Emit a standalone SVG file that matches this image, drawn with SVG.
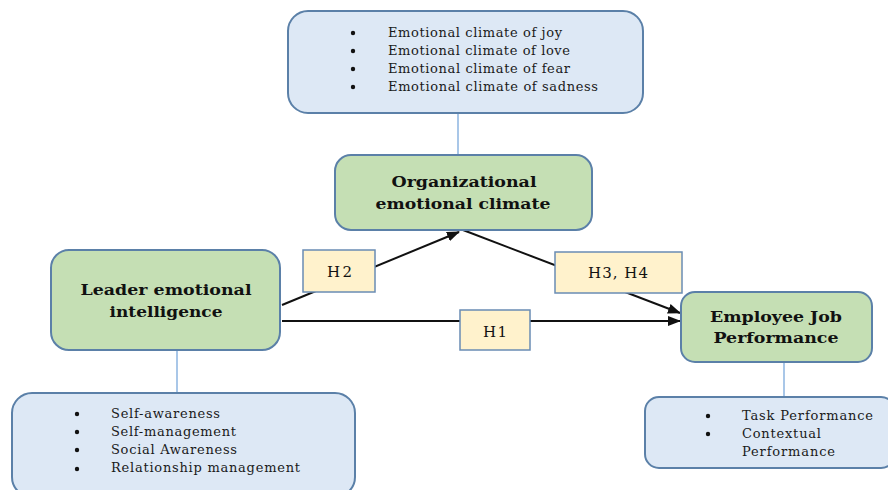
<svg xmlns="http://www.w3.org/2000/svg" width="888" height="490" viewBox="0 0 888 490">
<style>
.info{fill:#dde8f5;stroke:#5b80a8;stroke-width:2}
.main{fill:#c5dfb4;stroke:#5b80a8;stroke-width:2}
.hyp{fill:#fff2cc;stroke:#6a8cb4;stroke-width:1.5}
.link{stroke:#8db4e0;stroke-width:1.5;fill:none}
.arrow{stroke:#111;stroke-width:2;fill:none}
.t{font-family:"DejaVu Serif","Liberation Serif",serif;font-size:13px;fill:#1a1a1a}
.b{font-family:"DejaVu Serif","Liberation Serif",serif;font-size:15px;font-weight:bold;fill:#111;text-anchor:middle}
.h{font-family:"DejaVu Serif","Liberation Serif",serif;font-size:15px;fill:#111}
</style>
<defs>
<marker id="ah" markerWidth="13" markerHeight="10" refX="12" refY="5" orient="auto" markerUnits="userSpaceOnUse" viewBox="0 0 13 10">
<path d="M0,0 L13,5 L0,10 Z" fill="#111"/>
</marker>
</defs>
<g id="connectors">
<line class="link" x1="458" y1="113" x2="458" y2="155"/>
<line class="link" x1="177" y1="350" x2="177" y2="393"/>
<line class="link" x1="784" y1="362" x2="784" y2="397"/>
<line class="arrow" x1="282" y1="305" x2="459" y2="232" marker-end="url(#ah)"/>
<line class="arrow" x1="463" y1="230" x2="680" y2="313" marker-end="url(#ah)"/>
<line class="arrow" x1="282" y1="321" x2="680" y2="321" marker-end="url(#ah)"/>
</g>
<g id="climate-dimensions">
<rect class="info" x="288" y="11" width="355" height="102" rx="20"/>
<circle cx="353" cy="33" r="2.2" fill="#111"/>
<circle cx="353" cy="51" r="2.2" fill="#111"/>
<circle cx="353" cy="69" r="2.2" fill="#111"/>
<circle cx="353" cy="87" r="2.2" fill="#111"/>
<text class="t" x="388" y="37" textLength="174" lengthAdjust="spacing">Emotional climate of joy</text>
<text class="t" x="388" y="55" textLength="182" lengthAdjust="spacing">Emotional climate of love</text>
<text class="t" x="388" y="73" textLength="182" lengthAdjust="spacing">Emotional climate of fear</text>
<text class="t" x="388" y="91" textLength="210" lengthAdjust="spacing">Emotional climate of sadness</text>
</g>
<g id="org-climate">
<rect class="main" x="335" y="155" width="257" height="75" rx="16"/>
<text class="b" x="464" y="187" textLength="145" lengthAdjust="spacingAndGlyphs">Organizational</text>
<text class="b" x="463" y="209" textLength="175" lengthAdjust="spacingAndGlyphs">emotional climate</text>
</g>
<g id="leader-ei">
<rect class="main" x="51" y="250" width="229" height="100" rx="18"/>
<text class="b" x="166" y="295" textLength="171" lengthAdjust="spacingAndGlyphs">Leader emotional</text>
<text class="b" x="166" y="317" textLength="113" lengthAdjust="spacingAndGlyphs">intelligence</text>
</g>
<g id="job-performance">
<rect class="main" x="681" y="292" width="191" height="70" rx="14"/>
<text class="b" x="776" y="322" textLength="132" lengthAdjust="spacingAndGlyphs">Employee Job</text>
<text class="b" x="776" y="343" textLength="125" lengthAdjust="spacingAndGlyphs">Performance</text>
</g>
<g id="ei-dimensions">
<rect class="info" x="12" y="393" width="343" height="104" rx="20"/>
<circle cx="77" cy="414" r="2.2" fill="#111"/>
<circle cx="77" cy="432" r="2.2" fill="#111"/>
<circle cx="77" cy="450" r="2.2" fill="#111"/>
<circle cx="77" cy="469" r="2.2" fill="#111"/>
<text class="t" x="111" y="418" textLength="109" lengthAdjust="spacing">Self-awareness</text>
<text class="t" x="111" y="436" textLength="125" lengthAdjust="spacing">Self-management</text>
<text class="t" x="111" y="454" textLength="126" lengthAdjust="spacing">Social Awareness</text>
<text class="t" x="111" y="472" textLength="189" lengthAdjust="spacing">Relationship management</text>
</g>
<g id="perf-dimensions">
<rect class="info" x="645" y="397" width="250" height="71" rx="14"/>
<circle cx="708" cy="416" r="2.2" fill="#111"/>
<circle cx="708" cy="434" r="2.2" fill="#111"/>
<text class="t" x="742" y="420" textLength="131" lengthAdjust="spacing">Task Performance</text>
<text class="t" x="742" y="438" textLength="79" lengthAdjust="spacing">Contextual</text>
<text class="t" x="742" y="456" textLength="93" lengthAdjust="spacing">Performance</text>
</g>
<g id="h2">
<rect class="hyp" x="303" y="250" width="72" height="42"/>
<text class="h" x="327" y="277" textLength="25" lengthAdjust="spacing">H2</text>
</g>
<g id="h3h4">
<rect class="hyp" x="555" y="252" width="127" height="41"/>
<text class="h" x="588" y="278" textLength="60" lengthAdjust="spacing">H3, H4</text>
</g>
<g id="h1">
<rect class="hyp" x="460" y="310" width="70" height="40"/>
<text class="h" x="483" y="337" textLength="24" lengthAdjust="spacing">H1</text>
</g>
</svg>
